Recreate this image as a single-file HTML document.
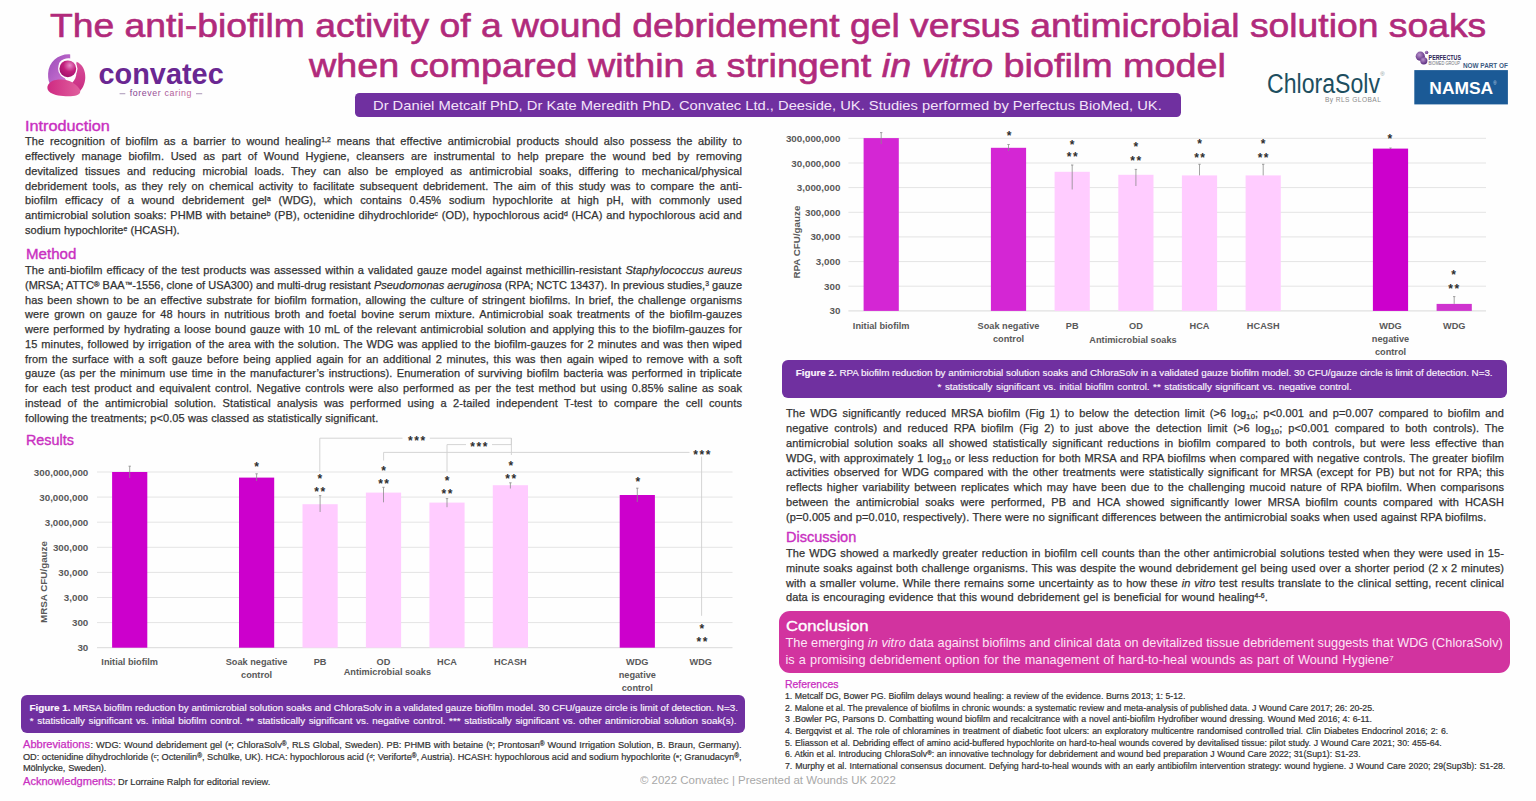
<!DOCTYPE html>
<html><head><meta charset="utf-8"><title>Anti-biofilm activity poster</title>
<style>
html,body{margin:0;padding:0;background:#fff;}
#pg{position:relative;width:1536px;height:801px;overflow:hidden;background:#fefefe;font-family:"Liberation Sans",Arial,sans-serif;}
.ln{position:absolute;white-space:nowrap;}
.fit{transform-origin:0 0;}
.jj{text-align:justify;text-align-last:justify;}
.sp{font-size:0.62em;vertical-align:0.42em;line-height:0;}
.rg{font-size:0.7em;vertical-align:0.3em;line-height:0;}
.sb{font-size:0.7em;vertical-align:-0.3em;line-height:0;}
.box{position:absolute;}
.bm{display:inline-block;width:0;height:0;vertical-align:baseline;}
svg text{font-family:"Liberation Sans",Arial,sans-serif;}
.ax{font-size:9.8px;font-weight:bold;fill:#595959;}
.cl{font-size:9.2px;font-weight:bold;fill:#595959;}
.st{font-size:12px;font-weight:bold;fill:#2e2e2e;}
.t{font-size:33.00px;line-height:42.90px;color:#b12a7b;-webkit-text-stroke:0.6px #b12a7b;}
.h{font-size:14.00px;line-height:18.20px;color:#c92fc1;-webkit-text-stroke:0.35px #c92fc1;}
.hs{font-size:10.00px;line-height:13.00px;color:#c92fc1;-webkit-text-stroke:0.25px #c92fc1;}
.hw{font-size:15.00px;line-height:19.50px;color:#ffffff;-webkit-text-stroke:0.35px #ffffff;}
.b{font-size:11.00px;line-height:14.30px;color:#333333;-webkit-text-stroke:0.25px #333333;}
.cp{font-size:9.85px;line-height:12.80px;color:#fbf5fd;-webkit-text-stroke:0.15px #fbf5fd;}
.ab{font-size:9.20px;line-height:11.96px;color:#333333;-webkit-text-stroke:0.2px #333333;}
.rf{font-size:8.75px;line-height:11.38px;color:#333333;-webkit-text-stroke:0.2px #333333;}
.cc{font-size:12.70px;line-height:16.51px;color:#fde6f6;}
.bn{font-size:13.20px;line-height:17.16px;color:#f4e4fa;}
.ft{font-size:10.00px;line-height:13.00px;color:#a8a8a8;}
</style></head><body><div id="pg">
<div class="box" style="left:355.2px;top:92.6px;width:825.5px;height:24.2px;background:#7030a0;border-radius:4.5px;"></div>
<div class="box" style="left:20.9px;top:694.5px;width:724.6px;height:38.3px;background:#7030a0;border-radius:6px;"></div>
<div class="box" style="left:782.3px;top:359.5px;width:724.3px;height:38.2px;background:#7030a0;border-radius:6px;"></div>
<div class="box" style="left:778.9px;top:610.8px;width:730.7px;height:62.7px;background:#d2339f;border-radius:11px;"></div>
<svg style="position:absolute;left:0;top:0" width="1536" height="801" viewBox="0 0 1536 801">
<line x1="97.0" y1="472.0" x2="732.5" y2="472.0" stroke="#e4e4e4" stroke-width="1"/>
<line x1="97.0" y1="497.1" x2="732.5" y2="497.1" stroke="#e4e4e4" stroke-width="1"/>
<line x1="97.0" y1="522.2" x2="732.5" y2="522.2" stroke="#e4e4e4" stroke-width="1"/>
<line x1="97.0" y1="547.3" x2="732.5" y2="547.3" stroke="#e4e4e4" stroke-width="1"/>
<line x1="97.0" y1="572.4" x2="732.5" y2="572.4" stroke="#e4e4e4" stroke-width="1"/>
<line x1="97.0" y1="597.5" x2="732.5" y2="597.5" stroke="#e4e4e4" stroke-width="1"/>
<line x1="97.0" y1="622.6" x2="732.5" y2="622.6" stroke="#e4e4e4" stroke-width="1"/>
<line x1="97.0" y1="647.7" x2="732.5" y2="647.7" stroke="#d9d9d9" stroke-width="1"/>
<text x="88.3" y="475.5" class="ax" text-anchor="end">300,000,000</text>
<text x="88.3" y="500.6" class="ax" text-anchor="end">30,000,000</text>
<text x="88.3" y="525.7" class="ax" text-anchor="end">3,000,000</text>
<text x="88.3" y="550.8" class="ax" text-anchor="end">300,000</text>
<text x="88.3" y="575.9" class="ax" text-anchor="end">30,000</text>
<text x="88.3" y="601.0" class="ax" text-anchor="end">3,000</text>
<text x="88.3" y="626.1" class="ax" text-anchor="end">300</text>
<text x="88.3" y="651.2" class="ax" text-anchor="end">30</text>
<text class="ax" text-anchor="middle" transform="translate(46.7,582.0) rotate(-90)">MRSA CFU/gauze</text>
<rect x="112.1" y="472.0" width="35.2" height="175.7" fill="#cc00cc"/>
<line x1="129.7" y1="466.2" x2="129.7" y2="478.0" stroke="#8c8c8c" stroke-width="0.8"/>
<line x1="128.5" y1="466.2" x2="130.9" y2="466.2" stroke="#8c8c8c" stroke-width="0.8"/>
<rect x="239.0" y="477.6" width="35.2" height="170.1" fill="#cc00cc"/>
<line x1="256.6" y1="473.8" x2="256.6" y2="481.0" stroke="#8c8c8c" stroke-width="0.8"/>
<line x1="255.4" y1="473.8" x2="257.8" y2="473.8" stroke="#8c8c8c" stroke-width="0.8"/>
<rect x="302.5" y="504.2" width="35.2" height="143.5" fill="#ffccff"/>
<line x1="320.1" y1="495.6" x2="320.1" y2="512.0" stroke="#8c8c8c" stroke-width="0.8"/>
<line x1="318.9" y1="495.6" x2="321.3" y2="495.6" stroke="#8c8c8c" stroke-width="0.8"/>
<rect x="365.9" y="492.6" width="35.2" height="155.1" fill="#ffccff"/>
<line x1="383.5" y1="487.3" x2="383.5" y2="502.3" stroke="#8c8c8c" stroke-width="0.8"/>
<line x1="382.3" y1="487.3" x2="384.7" y2="487.3" stroke="#8c8c8c" stroke-width="0.8"/>
<rect x="429.4" y="502.6" width="35.2" height="145.1" fill="#ffccff"/>
<line x1="447.0" y1="498.6" x2="447.0" y2="507.2" stroke="#8c8c8c" stroke-width="0.8"/>
<line x1="445.8" y1="498.6" x2="448.2" y2="498.6" stroke="#8c8c8c" stroke-width="0.8"/>
<rect x="492.8" y="485.2" width="35.2" height="162.5" fill="#ffccff"/>
<line x1="510.4" y1="482.8" x2="510.4" y2="488.5" stroke="#8c8c8c" stroke-width="0.8"/>
<line x1="509.2" y1="482.8" x2="511.6" y2="482.8" stroke="#8c8c8c" stroke-width="0.8"/>
<rect x="619.7" y="495.0" width="35.2" height="152.7" fill="#cc00cc"/>
<line x1="637.3" y1="488.2" x2="637.3" y2="502.0" stroke="#8c8c8c" stroke-width="0.8"/>
<line x1="636.1" y1="488.2" x2="638.5" y2="488.2" stroke="#8c8c8c" stroke-width="0.8"/>
<text x="129.7" y="665.3" class="cl" text-anchor="middle">Initial biofilm</text>
<text x="256.6" y="665.3" class="cl" text-anchor="middle">Soak negative</text>
<text x="256.6" y="678.2" class="cl" text-anchor="middle">control</text>
<text x="320.1" y="665.3" class="cl" text-anchor="middle">PB</text>
<text x="383.5" y="665.3" class="cl" text-anchor="middle">OD</text>
<text x="447.0" y="665.3" class="cl" text-anchor="middle">HCA</text>
<text x="510.4" y="665.3" class="cl" text-anchor="middle">HCASH</text>
<text x="637.3" y="665.3" class="cl" text-anchor="middle">WDG</text>
<text x="637.3" y="678.2" class="cl" text-anchor="middle">negative</text>
<text x="637.3" y="691.1" class="cl" text-anchor="middle">control</text>
<text x="700.8" y="665.3" class="cl" text-anchor="middle">WDG</text>
<text x="387.4" y="675.0" class="cl" text-anchor="middle">Antimicrobial soaks</text>
<text x="256.5" y="471.1" class="st" text-anchor="middle">*</text>
<text x="319.8" y="482.5" class="st" text-anchor="middle">*</text>
<text x="316.7" y="495.8" class="st" text-anchor="middle">*</text>
<text x="322.9" y="495.8" class="st" text-anchor="middle">*</text>
<text x="383.6" y="474.7" class="st" text-anchor="middle">*</text>
<text x="380.5" y="488.1" class="st" text-anchor="middle">*</text>
<text x="386.7" y="488.1" class="st" text-anchor="middle">*</text>
<text x="447.0" y="484.5" class="st" text-anchor="middle">*</text>
<text x="443.9" y="497.8" class="st" text-anchor="middle">*</text>
<text x="450.1" y="497.8" class="st" text-anchor="middle">*</text>
<text x="510.8" y="469.5" class="st" text-anchor="middle">*</text>
<text x="507.7" y="482.5" class="st" text-anchor="middle">*</text>
<text x="513.9" y="482.5" class="st" text-anchor="middle">*</text>
<text x="637.8" y="485.6" class="st" text-anchor="middle">*</text>
<text x="701.9" y="632.6" class="st" text-anchor="middle">*</text>
<text x="698.8" y="646.2" class="st" text-anchor="middle">*</text>
<text x="705.0" y="646.2" class="st" text-anchor="middle">*</text>
<path d="M319.8,471.5 V438.2 H402.5 M429.8,438.2 H511.4 V455" stroke="#cfcfcf" stroke-width="0.9" fill="none"/>
<path d="M447.0,471.5 V444.6 H466 M492,444.6 H511.4 V438.2" stroke="#cfcfcf" stroke-width="0.9" fill="none"/>
<path d="M383.6,460.5 V452.4 H689.5 M701.6,456.5 V615.8" stroke="#cfcfcf" stroke-width="0.9" fill="none"/>
<text x="410.4" y="444.9" class="st" text-anchor="middle">*</text>
<text x="416.6" y="444.9" class="st" text-anchor="middle">*</text>
<text x="422.8" y="444.9" class="st" text-anchor="middle">*</text>
<text x="472.6" y="451.2" class="st" text-anchor="middle">*</text>
<text x="478.8" y="451.2" class="st" text-anchor="middle">*</text>
<text x="485.0" y="451.2" class="st" text-anchor="middle">*</text>
<text x="695.6" y="459.2" class="st" text-anchor="middle">*</text>
<text x="701.8" y="459.2" class="st" text-anchor="middle">*</text>
<text x="708.0" y="459.2" class="st" text-anchor="middle">*</text>
<line x1="848.4" y1="138.3" x2="1486.0" y2="138.3" stroke="#e4e4e4" stroke-width="1"/>
<line x1="848.4" y1="163.0" x2="1486.0" y2="163.0" stroke="#e4e4e4" stroke-width="1"/>
<line x1="848.4" y1="187.6" x2="1486.0" y2="187.6" stroke="#e4e4e4" stroke-width="1"/>
<line x1="848.4" y1="212.3" x2="1486.0" y2="212.3" stroke="#e4e4e4" stroke-width="1"/>
<line x1="848.4" y1="236.9" x2="1486.0" y2="236.9" stroke="#e4e4e4" stroke-width="1"/>
<line x1="848.4" y1="261.6" x2="1486.0" y2="261.6" stroke="#e4e4e4" stroke-width="1"/>
<line x1="848.4" y1="286.2" x2="1486.0" y2="286.2" stroke="#e4e4e4" stroke-width="1"/>
<line x1="848.4" y1="310.9" x2="1486.0" y2="310.9" stroke="#d9d9d9" stroke-width="1"/>
<text x="840.4" y="141.8" class="ax" text-anchor="end">300,000,000</text>
<text x="840.4" y="166.5" class="ax" text-anchor="end">30,000,000</text>
<text x="840.4" y="191.1" class="ax" text-anchor="end">3,000,000</text>
<text x="840.4" y="215.8" class="ax" text-anchor="end">300,000</text>
<text x="840.4" y="240.4" class="ax" text-anchor="end">30,000</text>
<text x="840.4" y="265.1" class="ax" text-anchor="end">3,000</text>
<text x="840.4" y="289.7" class="ax" text-anchor="end">300</text>
<text x="840.4" y="314.4" class="ax" text-anchor="end">30</text>
<text class="ax" text-anchor="middle" transform="translate(799.8,242.1) rotate(-90)">RPA CFU/gauze</text>
<rect x="863.6" y="138.1" width="35.2" height="172.8" fill="#d426d4"/>
<line x1="881.2" y1="132.6" x2="881.2" y2="144.0" stroke="#8c8c8c" stroke-width="0.8"/>
<line x1="880.0" y1="132.6" x2="882.4" y2="132.6" stroke="#8c8c8c" stroke-width="0.8"/>
<rect x="990.9" y="147.8" width="35.2" height="163.1" fill="#d426d4"/>
<line x1="1008.5" y1="144.5" x2="1008.5" y2="151.0" stroke="#8c8c8c" stroke-width="0.8"/>
<line x1="1007.3" y1="144.5" x2="1009.8" y2="144.5" stroke="#8c8c8c" stroke-width="0.8"/>
<rect x="1054.6" y="171.8" width="35.2" height="139.1" fill="#ffccff"/>
<line x1="1072.2" y1="165.0" x2="1072.2" y2="189.5" stroke="#8c8c8c" stroke-width="0.8"/>
<line x1="1071.0" y1="165.0" x2="1073.4" y2="165.0" stroke="#8c8c8c" stroke-width="0.8"/>
<rect x="1118.3" y="174.8" width="35.2" height="136.1" fill="#ffccff"/>
<line x1="1135.9" y1="169.4" x2="1135.9" y2="186.0" stroke="#8c8c8c" stroke-width="0.8"/>
<line x1="1134.7" y1="169.4" x2="1137.1" y2="169.4" stroke="#8c8c8c" stroke-width="0.8"/>
<rect x="1181.9" y="175.4" width="35.2" height="135.5" fill="#ffccff"/>
<line x1="1199.5" y1="164.3" x2="1199.5" y2="175.4" stroke="#8c8c8c" stroke-width="0.8"/>
<line x1="1198.3" y1="164.3" x2="1200.7" y2="164.3" stroke="#8c8c8c" stroke-width="0.8"/>
<rect x="1245.6" y="175.4" width="35.2" height="135.5" fill="#ffccff"/>
<line x1="1263.2" y1="164.3" x2="1263.2" y2="175.4" stroke="#8c8c8c" stroke-width="0.8"/>
<line x1="1262.0" y1="164.3" x2="1264.4" y2="164.3" stroke="#8c8c8c" stroke-width="0.8"/>
<rect x="1372.9" y="148.6" width="35.2" height="162.3" fill="#cc00cc"/>
<line x1="1390.5" y1="148.0" x2="1390.5" y2="149.0" stroke="#8c8c8c" stroke-width="0.8"/>
<line x1="1389.3" y1="148.0" x2="1391.7" y2="148.0" stroke="#8c8c8c" stroke-width="0.8"/>
<rect x="1436.6" y="303.9" width="35.2" height="7.0" fill="#cf33cf"/>
<line x1="1454.2" y1="296.6" x2="1454.2" y2="303.9" stroke="#8c8c8c" stroke-width="0.8"/>
<line x1="1453.0" y1="296.6" x2="1455.4" y2="296.6" stroke="#8c8c8c" stroke-width="0.8"/>
<text x="881.2" y="328.9" class="cl" text-anchor="middle">Initial biofilm</text>
<text x="1008.5" y="328.9" class="cl" text-anchor="middle">Soak negative</text>
<text x="1008.5" y="342.0" class="cl" text-anchor="middle">control</text>
<text x="1072.2" y="328.9" class="cl" text-anchor="middle">PB</text>
<text x="1135.9" y="328.9" class="cl" text-anchor="middle">OD</text>
<text x="1199.5" y="328.9" class="cl" text-anchor="middle">HCA</text>
<text x="1263.2" y="328.9" class="cl" text-anchor="middle">HCASH</text>
<text x="1390.5" y="328.9" class="cl" text-anchor="middle">WDG</text>
<text x="1390.5" y="342.0" class="cl" text-anchor="middle">negative</text>
<text x="1390.5" y="355.1" class="cl" text-anchor="middle">control</text>
<text x="1454.2" y="328.9" class="cl" text-anchor="middle">WDG</text>
<text x="1133.0" y="342.9" class="cl" text-anchor="middle">Antimicrobial soaks</text>
<text x="1009.0" y="139.9" class="st" text-anchor="middle">*</text>
<text x="1072.2" y="148.5" class="st" text-anchor="middle">*</text>
<text x="1069.1" y="161.1" class="st" text-anchor="middle">*</text>
<text x="1075.3" y="161.1" class="st" text-anchor="middle">*</text>
<text x="1135.8" y="151.2" class="st" text-anchor="middle">*</text>
<text x="1132.7" y="165.0" class="st" text-anchor="middle">*</text>
<text x="1138.9" y="165.0" class="st" text-anchor="middle">*</text>
<text x="1199.6" y="148.2" class="st" text-anchor="middle">*</text>
<text x="1196.5" y="162.0" class="st" text-anchor="middle">*</text>
<text x="1202.7" y="162.0" class="st" text-anchor="middle">*</text>
<text x="1263.1" y="148.2" class="st" text-anchor="middle">*</text>
<text x="1260.0" y="162.2" class="st" text-anchor="middle">*</text>
<text x="1266.2" y="162.2" class="st" text-anchor="middle">*</text>
<text x="1389.9" y="142.6" class="st" text-anchor="middle">*</text>
<text x="1453.7" y="278.9" class="st" text-anchor="middle">*</text>
<text x="1450.6" y="292.8" class="st" text-anchor="middle">*</text>
<text x="1456.8" y="292.8" class="st" text-anchor="middle">*</text>
<defs>
 <linearGradient id="cvA" x1="0" y1="0" x2="1" y2="1"><stop offset="0" stop-color="#9a4bb8"/><stop offset="1" stop-color="#d27ad6"/></linearGradient>
 <linearGradient id="cvB" x1="0" y1="0" x2="1" y2="0"><stop offset="0" stop-color="#cf2a82"/><stop offset="1" stop-color="#e0609e"/></linearGradient>
 <linearGradient id="cvC" x1="0" y1="0" x2="0" y2="1"><stop offset="0" stop-color="#d8509a"/><stop offset="1" stop-color="#c92a80"/></linearGradient>
 <radialGradient id="cvD" cx="0.62" cy="0.3" r="0.75"><stop offset="0" stop-color="#e98ac8"/><stop offset="0.5" stop-color="#c21f7c"/><stop offset="1" stop-color="#a0106a"/></radialGradient>
 <linearGradient id="fc" x1="0" y1="0" x2="1" y2="0"><stop offset="0" stop-color="#7a3a8e"/><stop offset="1" stop-color="#c86a9c"/></linearGradient>
 <radialGradient id="pf" cx="0.4" cy="0.35" r="0.7"><stop offset="0" stop-color="#b890cc"/><stop offset="1" stop-color="#55267a"/></radialGradient>
</defs>
<!-- convatec symbol -->
<g transform="translate(42,50)">
 <path d="M28.2,4.4 C17,3.6 6.8,11.5 6.1,23.5 C5.8,29 7,32.5 8.6,35 L26,33 L20,24 C16.5,20 15.8,15 17.8,12 C20.5,9 24.5,7.9 28.2,8.4 Z" fill="url(#cvA)"/>
 <path d="M34.6,11.8 C40.2,14 43.6,20.5 43.3,27.8 C43,34 40.4,39.3 36.8,42.3 L30,33 C32.8,30.2 34.6,26.5 34.4,22 C34.2,18.2 34,14.6 34.6,11.8 Z" fill="url(#cvC)"/>
 <path d="M5.5,36.2 C7.4,31.2 13,29.3 19.6,29.6 C27,30 33.2,33 37.6,39 C39.6,42.6 37.2,45.6 31,46.1 C23,46.8 13,45.6 8.5,42.7 C5.8,40.9 5,38.6 5.5,36.2 Z" fill="url(#cvB)"/>
 <circle cx="25.8" cy="18.8" r="9.7" fill="#fefefe"/>
 <circle cx="25.8" cy="18.8" r="8.4" fill="url(#cvD)"/>
</g>
<text x="98.5" y="84.2" font-size="29.7" font-weight="bold" fill="#6a2792" textLength="125.2" lengthAdjust="spacingAndGlyphs">convatec</text>
<rect x="119.6" y="93.3" width="5.7" height="0.9" fill="#a08ab0"/>
<rect x="196.0" y="93.3" width="6.2" height="0.9" fill="#a08ab0"/>
<text x="129.7" y="96.0" font-size="8.6" fill="url(#fc)" textLength="62.4" lengthAdjust="spacingAndGlyphs" letter-spacing="0.6">forever caring</text>
<!-- ChloraSolv -->
<text x="1267" y="93" font-size="28.2" fill="#1d4e5f" textLength="113" lengthAdjust="spacingAndGlyphs">ChloraSolv</text>
<text x="1380.2" y="76.3" font-size="6" fill="#8a9aa0">&#174;</text>
<text x="1325" y="102.2" font-size="6.6" fill="#8a8a8a" textLength="55.8" lengthAdjust="spacing">By RLS GLOBAL</text>
<!-- Perfectus / NAMSA -->
<circle cx="1420.3" cy="56.2" r="4.6" fill="url(#pf)"/>
<circle cx="1423.8" cy="60.8" r="3.6" fill="url(#pf)"/>
<circle cx="1426.6" cy="52.4" r="1.7" fill="url(#pf)"/>
<text x="1428.6" y="59.6" font-size="6.6" font-weight="bold" fill="#2c2356" textLength="32.4" lengthAdjust="spacingAndGlyphs">PERFECTUS</text>
<text x="1428.6" y="64.6" font-size="5.4" fill="#6f6f7a" textLength="31.4" lengthAdjust="spacingAndGlyphs">BIOMED GROUP</text>
<text x="1463" y="68.4" font-size="7" font-weight="bold" fill="#3b5a82" textLength="44.9" lengthAdjust="spacingAndGlyphs">NOW PART OF</text>
<rect x="1414.3" y="70.1" width="93.6" height="34.3" fill="#1b5a96"/>
<text x="1429.3" y="93.6" font-size="17.3" font-weight="bold" fill="#ffffff" textLength="63.9" lengthAdjust="spacingAndGlyphs">NAMSA</text>
<text x="1493.2" y="85" font-size="4.5" fill="#c8d8e8">&#174;</text>

</svg>
<div id="l0" class="ln t fit" style="left:50.30px;top:4.80px;transform:scaleX(1.1299)">The anti-biofilm activity of a wound debridement gel versus antimicrobial solution soaks<span class="bm"></span></div>
<div id="l1" class="ln t fit" style="left:308.90px;top:45.41px;transform:scaleX(1.1439)">when compared within a stringent <i>in vitro</i> biofilm model<span class="bm"></span></div>
<div id="l2" class="ln bn fit" style="left:373.30px;top:97.31px;transform:scaleX(1.1163)">Dr Daniel Metcalf PhD, Dr Kate Meredith PhD. Convatec Ltd., Deeside, UK. Studies performed by Perfectus BioMed, UK.<span class="bm"></span></div>
<div id="l3" class="ln h fit" style="left:25.00px;top:116.91px;transform:scaleX(1.1603)">Introduction<span class="bm"></span></div>
<div id="l4" class="ln b jj" style="left:25.00px;top:134.41px;width:717.00px;letter-spacing:0.100px;"><span class="in">The recognition of biofilm as a barrier to wound healing<span class="sp">1,2</span> means that effective antimicrobial products should also possess the ability to<span class="bm"></span></span></div>
<div id="l5" class="ln b jj" style="left:25.00px;top:149.16px;width:717.00px;letter-spacing:0.100px;"><span class="in">effectively manage biofilm. Used as part of Wound Hygiene, cleansers are instrumental to help prepare the wound bed by removing<span class="bm"></span></span></div>
<div id="l6" class="ln b jj" style="left:25.00px;top:163.91px;width:717.00px;letter-spacing:0.100px;"><span class="in">devitalized tissues and reducing microbial loads. They can also be employed as antimicrobial soaks, differing to mechanical/physical<span class="bm"></span></span></div>
<div id="l7" class="ln b jj" style="left:25.00px;top:178.66px;width:717.00px;letter-spacing:0.100px;"><span class="in">debridement tools, as they rely on chemical activity to facilitate subsequent debridement. The aim of this study was to compare the anti-<span class="bm"></span></span></div>
<div id="l8" class="ln b jj" style="left:25.00px;top:193.41px;width:717.00px;letter-spacing:0.100px;"><span class="in">biofilm efficacy of a wound debridement gel<span class="sp">a</span> (WDG), which contains 0.45% sodium hypochlorite at high pH, with commonly used<span class="bm"></span></span></div>
<div id="l9" class="ln b jj" style="left:25.00px;top:208.16px;width:717.00px;letter-spacing:0.100px;"><span class="in">antimicrobial solution soaks: PHMB with betaine<span class="sp">b</span> (PB), octenidine dihydrochloride<span class="sp">c</span> (OD), hypochlorous acid<span class="sp">d</span> (HCA) and hypochlorous acid and<span class="bm"></span></span></div>
<div id="l10" class="ln b jj" style="left:25.00px;top:222.91px;width:154.70px;letter-spacing:0.021px;"><span class="in">sodium hypochlorite<span class="sp">e</span> (HCASH).<span class="bm"></span></span></div>
<div id="l11" class="ln h fit" style="left:25.60px;top:244.71px;transform:scaleX(1.0766)">Method<span class="bm"></span></div>
<div id="l12" class="ln b jj" style="left:25.00px;top:263.01px;width:717.00px;letter-spacing:0.100px;"><span class="in">The anti-biofilm efficacy of the test products was assessed within a validated gauze model against methicillin-resistant <i>Staphylococcus aureus</i><span class="bm"></span></span></div>
<div id="l13" class="ln b jj" style="left:25.00px;top:277.76px;width:717.00px;letter-spacing:-0.003px;"><span class="in">(MRSA; ATTC<span class="rg">&reg;</span> BAA<span class="rg">&trade;</span>-1556, clone of USA300) and multi-drug resistant <i>Pseudomonas aeruginosa</i> (RPA; NCTC 13437). In previous studies,<span class="sp">3</span> gauze<span class="bm"></span></span></div>
<div id="l14" class="ln b jj" style="left:25.00px;top:292.51px;width:717.00px;letter-spacing:0.100px;"><span class="in">has been shown to be an effective substrate for biofilm formation, allowing the culture of stringent biofilms. In brief, the challenge organisms<span class="bm"></span></span></div>
<div id="l15" class="ln b jj" style="left:25.00px;top:307.26px;width:717.00px;letter-spacing:0.100px;"><span class="in">were grown on gauze for 48 hours in nutritious broth and foetal bovine serum mixture. Antimicrobial soak treatments of the biofilm-gauzes<span class="bm"></span></span></div>
<div id="l16" class="ln b jj" style="left:25.00px;top:322.01px;width:717.00px;letter-spacing:0.100px;"><span class="in">were performed by hydrating a loose bound gauze with 10 mL of the relevant antimicrobial solution and applying this to the biofilm-gauzes for<span class="bm"></span></span></div>
<div id="l17" class="ln b jj" style="left:25.00px;top:336.76px;width:717.00px;letter-spacing:0.100px;"><span class="in">15 minutes, followed by irrigation of the area with the solution. The WDG was applied to the biofilm-gauzes for 2 minutes and was then wiped<span class="bm"></span></span></div>
<div id="l18" class="ln b jj" style="left:25.00px;top:351.51px;width:717.00px;letter-spacing:0.100px;"><span class="in">from the surface with a soft gauze before being applied again for an additional 2 minutes, this was then again wiped to remove with a soft<span class="bm"></span></span></div>
<div id="l19" class="ln b jj" style="left:25.00px;top:366.26px;width:717.00px;letter-spacing:0.100px;"><span class="in">gauze (as per the minimum use time in the manufacturer&rsquo;s instructions). Enumeration of surviving biofilm bacteria was performed in triplicate<span class="bm"></span></span></div>
<div id="l20" class="ln b jj" style="left:25.00px;top:381.01px;width:717.00px;letter-spacing:0.100px;"><span class="in">for each test product and equivalent control. Negative controls were also performed as per the test method but using 0.85% saline as soak<span class="bm"></span></span></div>
<div id="l21" class="ln b jj" style="left:25.00px;top:395.76px;width:717.00px;letter-spacing:0.100px;"><span class="in">instead of the antimicrobial solution. Statistical analysis was performed using a 2-tailed independent T-test to compare the cell counts<span class="bm"></span></span></div>
<div id="l22" class="ln b jj" style="left:25.00px;top:410.51px;width:353.40px;letter-spacing:0.100px;"><span class="in">following the treatments; p&lt;0.05 was classed as statistically significant.<span class="bm"></span></span></div>
<div id="l23" class="ln h fit" style="left:25.90px;top:431.00px;transform:scaleX(1.0255)">Results<span class="bm"></span></div>
<div id="l24" class="ln cp jj" style="left:29.40px;top:701.61px;width:708.50px;"><span class="in"><b>Figure 1.</b> MRSA biofilm reduction by antimicrobial solution soaks and ChloraSolv in a validated gauze biofilm model. 30 CFU/gauze circle is limit of detection. N=3.<span class="bm"></span></span></div>
<div id="l25" class="ln cp jj" style="left:29.80px;top:715.40px;width:706.80px;"><span class="in">* statistically significant vs. initial biofilm control. ** statistically significant vs. negative control. *** statistically significant vs. other antimicrobial solution soak(s).<span class="bm"></span></span></div>
<div id="l26" class="ln hs fit" style="left:22.90px;top:737.71px;transform:scaleX(1.1066)">Abbreviations<span class="bm"></span></div>
<div id="l27" class="ln ab jj" style="left:90.60px;top:739.71px;width:651.10px;"><span class="in">: WDG: Wound debridement gel (<span class="sp">a</span>; ChloraSolv<span class="rg">&reg;</span>, RLS Global, Sweden). PB: PHMB with betaine (<span class="sp">b</span>; Prontosan<span class="rg">&reg;</span> Wound Irrigation Solution, B. Braun, Germany).<span class="bm"></span></span></div>
<div id="l28" class="ln ab jj" style="left:22.90px;top:751.50px;width:718.60px;letter-spacing:-0.017px;"><span class="in">OD: octenidine dihydrochloride (<span class="sp">c</span>; Octenilin<span class="rg">&reg;</span>, Sch&uuml;lke, UK). HCA: hypochlorous acid (<span class="sp">d</span>; Veriforte<span class="rg">&reg;</span>, Austria). HCASH: hypochlorous acid and sodium hypochlorite (<span class="sp">e</span>; Granudacyn<span class="rg">&reg;</span>,<span class="bm"></span></span></div>
<div id="l29" class="ln ab jj" style="left:22.90px;top:762.71px;width:83.20px;letter-spacing:-0.109px;"><span class="in">M&ouml;lnlycke, Sweden).<span class="bm"></span></span></div>
<div id="l30" class="ln hs fit" style="left:22.90px;top:775.10px;transform:scaleX(1.1071)">Acknowledgments:<span class="bm"></span></div>
<div id="l31" class="ln ab jj" style="left:118.00px;top:777.10px;width:152.30px;"><span class="in">Dr Lorraine Ralph for editorial review.<span class="bm"></span></span></div>
<div id="l32" class="ln ft fit" style="left:640.20px;top:774.32px;transform:scaleX(1.1457)">&copy; 2022 Convatec | Presented at Wounds UK 2022<span class="bm"></span></div>
<div id="l33" class="ln cp jj" style="left:795.80px;top:366.61px;width:696.80px;letter-spacing:-0.019px;"><span class="in"><b>Figure 2.</b> RPA biofilm reduction by antimicrobial solution soaks and ChloraSolv in a validated gauze biofilm model. 30 CFU/gauze circle is limit of detection. N=3.<span class="bm"></span></span></div>
<div id="l34" class="ln cp jj" style="left:937.60px;top:380.51px;width:414.10px;"><span class="in">* statistically significant vs. initial biofilm control. ** statistically significant vs. negative control.<span class="bm"></span></span></div>
<div id="l35" class="ln b jj" style="left:786.00px;top:406.30px;width:718.00px;letter-spacing:0.100px;"><span class="in">The WDG significantly reduced MRSA biofilm (Fig 1) to below the detection limit (&gt;6 log<span class="sb">10</span>; p&lt;0.001 and p=0.007 compared to biofilm and<span class="bm"></span></span></div>
<div id="l36" class="ln b jj" style="left:786.00px;top:421.07px;width:718.00px;letter-spacing:0.100px;"><span class="in">negative controls) and reduced RPA biofilm (Fig 2) to just above the detection limit (&gt;6 log<span class="sb">10</span>; p&lt;0.001 compared to both controls). The<span class="bm"></span></span></div>
<div id="l37" class="ln b jj" style="left:786.00px;top:435.83px;width:718.00px;letter-spacing:0.100px;"><span class="in">antimicrobial solution soaks all showed statistically significant reductions in biofilm compared to both controls, but were less effective than<span class="bm"></span></span></div>
<div id="l38" class="ln b jj" style="left:786.00px;top:450.59px;width:718.00px;letter-spacing:0.100px;"><span class="in">WDG, with approximately 1 log<span class="sb">10</span> or less reduction for both MRSA and RPA biofilms when compared with negative controls. The greater biofilm<span class="bm"></span></span></div>
<div id="l39" class="ln b jj" style="left:786.00px;top:465.35px;width:718.00px;letter-spacing:0.100px;"><span class="in">activities observed for WDG compared with the other treatments were statistically significant for MRSA (except for PB) but not for RPA; this<span class="bm"></span></span></div>
<div id="l40" class="ln b jj" style="left:786.00px;top:480.10px;width:718.00px;letter-spacing:0.100px;"><span class="in">reflects higher variability between replicates which may have been due to the challenging mucoid nature of RPA biofilm. When comparisons<span class="bm"></span></span></div>
<div id="l41" class="ln b jj" style="left:786.00px;top:494.87px;width:718.00px;letter-spacing:0.100px;"><span class="in">between the antimicrobial soaks were performed, PB and HCA showed significantly lower MRSA biofilm counts compared with HCASH<span class="bm"></span></span></div>
<div id="l42" class="ln b jj" style="left:786.00px;top:509.62px;width:700.30px;letter-spacing:0.100px;"><span class="in">(p=0.005 and p=0.010, respectively). There were no significant differences between the antimicrobial soaks when used against RPA biofilms.<span class="bm"></span></span></div>
<div id="l43" class="ln h fit" style="left:785.50px;top:528.00px;transform:scaleX(1.0382)">Discussion<span class="bm"></span></div>
<div id="l44" class="ln b jj" style="left:786.00px;top:546.10px;width:718.00px;letter-spacing:0.100px;"><span class="in">The WDG showed a markedly greater reduction in biofilm cell counts than the other antimicrobial solutions tested when they were used in 15-<span class="bm"></span></span></div>
<div id="l45" class="ln b jj" style="left:786.00px;top:560.87px;width:718.00px;letter-spacing:0.100px;"><span class="in">minute soaks against both challenge organisms. This was despite the wound debridement gel being used over a shorter period (2 x 2 minutes)<span class="bm"></span></span></div>
<div id="l46" class="ln b jj" style="left:786.00px;top:575.64px;width:718.00px;letter-spacing:0.100px;"><span class="in">with a smaller volume. While there remains some uncertainty as to how these <i>in vitro</i> test results translate to the clinical setting, recent clinical<span class="bm"></span></span></div>
<div id="l47" class="ln b jj" style="left:786.00px;top:590.42px;width:481.90px;letter-spacing:0.100px;"><span class="in">data is encouraging evidence that this wound debridement gel is beneficial for wound healing<span class="sp">4-6</span>.<span class="bm"></span></span></div>
<div id="l48" class="ln hw fit" style="left:785.50px;top:615.91px;transform:scaleX(1.1122)">Conclusion<span class="bm"></span></div>
<div id="l49" class="ln cc jj" style="left:785.50px;top:635.31px;width:717.30px;letter-spacing:0.036px;"><span class="in">The emerging <i>in vitro</i> data against biofilms and clinical data on devitalized tissue debridement suggests that WDG (ChloraSolv)<span class="bm"></span></span></div>
<div id="l50" class="ln cc jj" style="left:785.50px;top:651.61px;width:608.10px;letter-spacing:0.050px;"><span class="in">is a promising debridement option for the management of hard-to-heal wounds as part of Wound Hygiene<span class="sp">7</span><span class="bm"></span></span></div>
<div id="l51" class="ln hs fit" style="left:785.00px;top:677.91px;transform:scaleX(1.0451)">References<span class="bm"></span></div>
<div id="l52" class="ln rf jj" style="left:785.00px;top:691.41px;width:400.40px;"><span class="in">1. Metcalf DG, Bower PG. Biofilm delays wound healing: a review of the evidence. Burns 2013; 1: 5-12.<span class="bm"></span></span></div>
<div id="l53" class="ln rf jj" style="left:785.00px;top:702.93px;width:589.50px;"><span class="in">2. Malone et al. The prevalence of biofilms in chronic wounds: a systematic review and meta-analysis of published data. J Wound Care 2017; 26: 20-25.<span class="bm"></span></span></div>
<div id="l54" class="ln rf jj" style="left:785.00px;top:714.47px;width:587.00px;"><span class="in">3 .Bowler PG, Parsons D. Combatting wound biofilm and recalcitrance with a novel anti-biofilm Hydrofiber wound dressing. Wound Med 2016; 4: 6-11.<span class="bm"></span></span></div>
<div id="l55" class="ln rf jj" style="left:785.00px;top:726.00px;width:663.20px;"><span class="in">4. Bergqvist et al. The role of chloramines in treatment of diabetic foot ulcers: an exploratory multicentre randomised controlled trial. Clin Diabetes Endocrinol 2016; 2: 6.<span class="bm"></span></span></div>
<div id="l56" class="ln rf jj" style="left:785.00px;top:737.54px;width:656.80px;"><span class="in">5. Eliasson et al. Debriding effect of amino acid-buffered hypochlorite on hard-to-heal wounds covered by devitalised tissue: pilot study. J Wound Care 2021; 30: 455-64.<span class="bm"></span></span></div>
<div id="l57" class="ln rf jj" style="left:785.00px;top:749.06px;width:575.60px;"><span class="in">6. Atkin et al. Introducing ChloraSolv<span class="rg">&reg;</span>: an innovative technology for debridement and wound bed preparation J Wound Care 2022; 31(Sup1): S1-23.<span class="bm"></span></span></div>
<div id="l58" class="ln rf jj" style="left:785.00px;top:760.59px;width:720.30px;"><span class="in">7. Murphy et al. International consensus document. Defying hard-to-heal wounds with an early antibiofilm intervention strategy: wound hygiene. J Wound Care 2020; 29(Sup3b): S1-28.<span class="bm"></span></span></div>
</div></body></html>
